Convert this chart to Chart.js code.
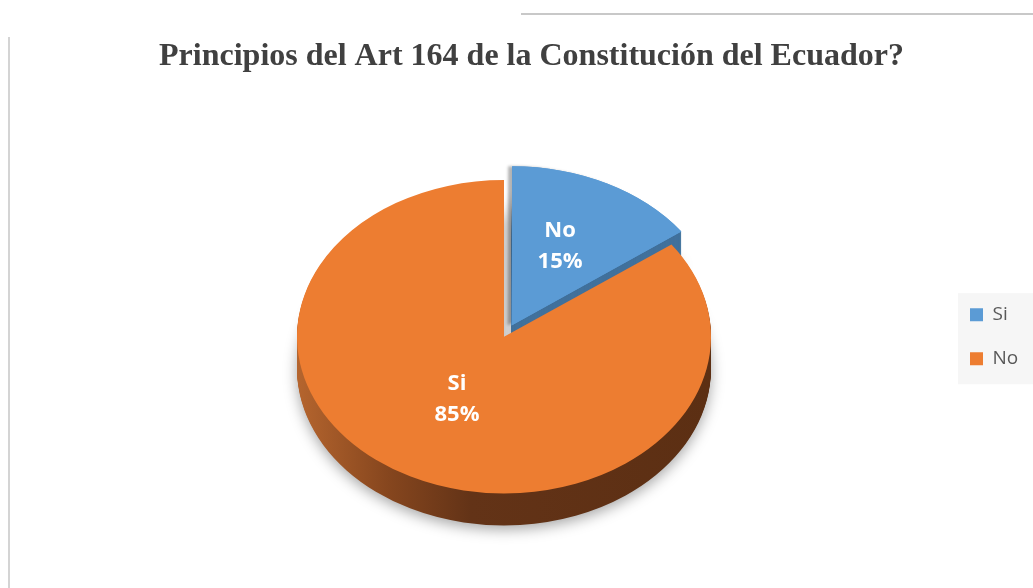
<!DOCTYPE html>
<html>
<head>
<meta charset="utf-8">
<script src="https://cdn.jsdelivr.net/npm/chart.js@4"></script>
<style>
  html, body { margin: 0; padding: 0; background: #fff; }
  body { width: 1033px; height: 588px; position: relative; overflow: hidden; }
  #topline { position: absolute; left: 521px; top: 13px; width: 512px; height: 2px; background: #c8c8c8; }
  #leftline { position: absolute; left: 8px; top: 37px; width: 2px; height: 551px; background: #d4d4d4; }
  #myChart { position: absolute; left: 0; top: 0; }
</style>
</head>
<body>
<div id="topline"></div>
<div id="leftline"></div>
<canvas id="myChart" width="1033" height="588"></canvas>
<script>
const categories = ['Si', 'No'];
const values = [15, 85];
const sliceNames = ['No', 'Si'];   // text printed on each slice, as in the original
const sliceColors = ['#5b9bd5', '#ed7d31'];
const chartTitle = 'Principios del Art 164 de la Constitución del Ecuador?';

const squash = 0.757;   // vertical tilt of the pie
const depth = 32;       // thickness of the 3d side

function tilt(ctx, cx, cy) {
  ctx.translate(cx, cy);
  ctx.scale(1, squash);
  ctx.translate(-cx, -cy);
}

function sideFill(ctx, i, cx, r) {
  if (i == 0) return '#41719c';
  const g = ctx.createLinearGradient(cx - r, 0, cx + r, 0);
  g.addColorStop(0, '#b5652e');
  g.addColorStop(0.22, '#86461e');
  g.addColorStop(0.42, '#633317');
  g.addColorStop(1, '#5c2f13');
  return g;
}

// how far chart.js pushes an exploded arc out (same maths as ArcElement.draw)
function explodeShift(arc) {
  const off = (arc.options.offset || 0) / 4;
  const circ = arc.endAngle - arc.startAngle;
  return off * (2 - Math.sin(Math.min(Math.PI, circ)));
}

const pie3d = {
  id: 'pie3d',
  afterLayout(chart) {
    // let the legend reach the right edge and sit beside the pie only
    const lg = chart.legend, area = chart.chartArea;
    lg.right = chart.width;
    lg.width = lg.right - lg.left;
    lg.top = area.top;
    lg.bottom = area.bottom;
    lg.height = lg.bottom - lg.top;
  },
  beforeDraw(chart) {
    // grey panel behind the legend
    const boxes = chart.legend.legendHitBoxes;
    if (!boxes || !boxes.length) return;
    const ctx = chart.ctx;
    const first = boxes[0], last = boxes[boxes.length - 1];
    ctx.save();
    ctx.fillStyle = '#f6f6f6';
    ctx.fillRect(first.left - 12, first.top - 12, chart.width - first.left + 12, last.top + last.height - first.top + 28);
    ctx.restore();
  },
  beforeDatasetsDraw(chart) {
    const ctx = chart.ctx;
    const meta = chart.getDatasetMeta(0);
    const cx = meta.data[0].x, cy = meta.data[0].y, r = meta.data[0].outerRadius;
    for (let d = depth; d > 0; d--) {
      ctx.save();
      if (d == depth) {
        ctx.shadowColor = 'rgba(0,0,0,0.35)';
        ctx.shadowBlur = 14;
        ctx.shadowOffsetY = 4;
      }
      ctx.translate(0, d);
      tilt(ctx, cx, cy);
      meta.data.forEach((arc, i) => {
        const keep = arc.options;
        const c = sideFill(ctx, i, cx, r);
        arc.options = Object.assign({}, keep, {backgroundColor: c, borderColor: c});
        arc.draw(ctx);
        arc.options = keep;
      });
      ctx.restore();
    }
    // soft shade in the gap left of the exploded slice
    ctx.save();
    ctx.shadowColor = 'rgba(0,0,0,0.3)';
    ctx.shadowBlur = 3;
    ctx.shadowOffsetX = -4;
    tilt(ctx, cx, cy);
    meta.data[0].draw(ctx);
    ctx.restore();

    ctx.save();
    tilt(ctx, cx, cy);
  },
  afterDatasetsDraw(chart) {
    const ctx = chart.ctx;
    ctx.restore();
    const meta = chart.getDatasetMeta(0);
    const total = values.reduce((a, b) => a + b, 0);
    ctx.save();
    ctx.fillStyle = '#ffffff';
    ctx.font = 'bold 22px "Open Sans"';
    ctx.textAlign = 'center';
    ctx.textBaseline = 'middle';
    meta.data.forEach((arc, i) => {
      const mid = (arc.startAngle + arc.endAngle) / 2;
      const rr = arc.outerRadius / 2 + explodeShift(arc);
      const x = arc.x + Math.cos(mid) * rr;
      const y = arc.y + Math.sin(mid) * rr * squash - 8;
      ctx.fillText(sliceNames[i], x, y - 15);
      ctx.fillText(Math.round(values[i] / total * 100) + '%', x, y + 16);
    });
    ctx.restore();
  }
};

const ctx = document.getElementById('myChart').getContext('2d');
const myChart = new Chart(ctx, {
  type: 'pie',
  data: {
    labels: categories,
    datasets: [{
      data: values,
      backgroundColor: sliceColors,
      borderWidth: 0,
      offset: [67, 0],
      radius: 207,
      clip: false
    }]
  },
  options: {
    responsive: false,
    animation: false,
    layout: {
      padding: { left: 63, right: 33, top: 0, bottom: 0 }
    },
    plugins: {
      title: {
        display: true,
        text: chartTitle,
        color: '#404040',
        font: { family: '"Liberation Serif", "Times New Roman", serif', size: 32, weight: 'bold' },
        padding: { top: 38, bottom: 9 }
      },
      legend: {
        display: true,
        position: 'right',
        maxWidth: 55,
        labels: {
          boxWidth: 13,
          boxHeight: 13,
          padding: 25,
          color: '#595959',
          font: { family: '"Open Sans", "Noto Sans", sans-serif', size: 19 }
        }
      },
      tooltip: { enabled: false }
    }
  },
  plugins: [pie3d]
});
</script>
</body>
</html>
